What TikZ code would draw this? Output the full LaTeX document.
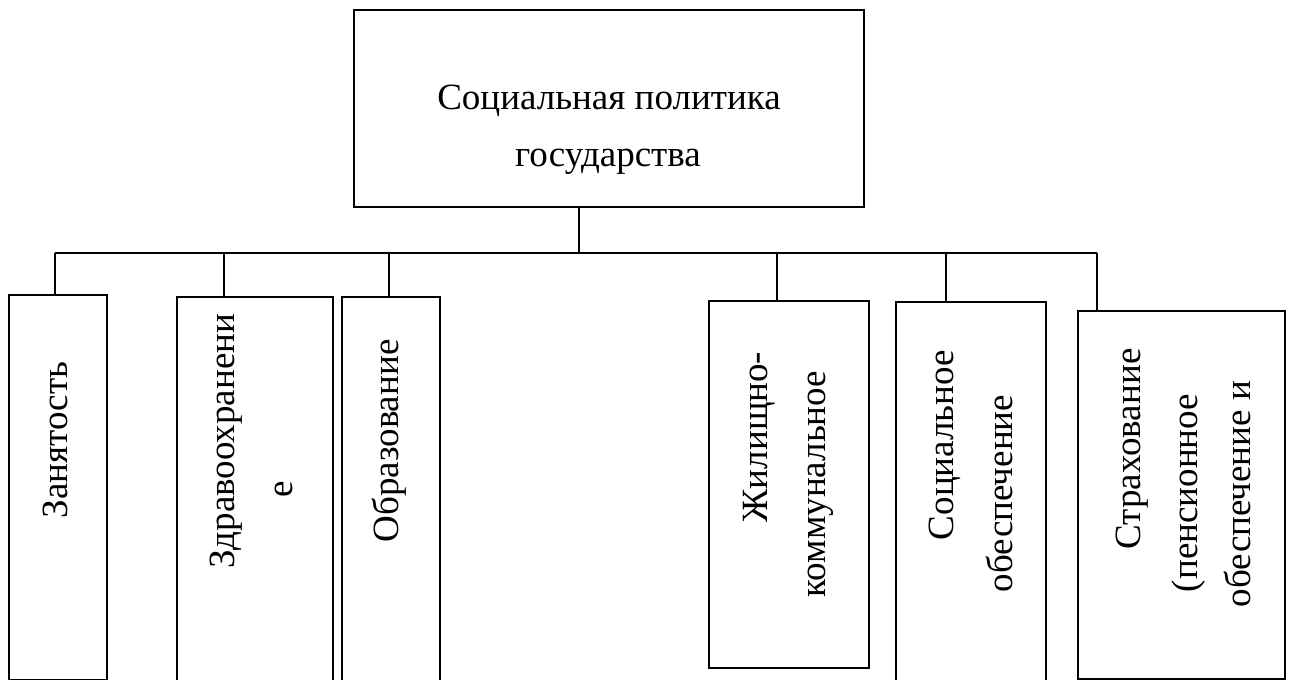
\documentclass[tikz,border=0pt]{standalone}
\usepackage{fontspec}
\setmainfont{Liberation Serif}
\tikzset{
  box/.style={draw, line width=0.8pt, inner sep=0pt, outer sep=0pt},
  hlabel/.style={anchor=base, inner sep=0pt, font=\fontsize{15.8}{19}\selectfont},
  vlabel/.style={hlabel, rotate=90},
  link/.style={line width=0.5pt}
}
\begin{document}
\begin{tikzpicture}
            \useasboundingbox (0,0) rectangle (19.395,10.2);
            \clip (0,0) rectangle (19.395,10.2);
            %Social policy
            \node [box, minimum width = 7.65cm, minimum height = 2.955cm]
            (pol)at(9.135,8.5725){};
            \node [hlabel] (pol1)at(9.135,8.55){Социальная политика};
            \node [hlabel] (pol2)at(9.12,7.695){государства};
            %Employment
            \node [box, minimum width = 1.47cm, minimum height = 5.7675cm]
            (zan)at(0.87,2.891){};
            \node [vlabel] (zan1)at(1.005,3.6){Занятость};
            %Health care
            \node [box, minimum width = 2.34cm, minimum height = 6.045cm]
            (zdr)at(3.825,2.7225){};
            \node [vlabel] (zdr1)at(3.51,3.585){Здравоохранени};
            \node [vlabel] (zdr2)at(4.38,2.865){е};
            %Education
            \node [box, minimum width = 1.47cm, minimum height = 6.045cm]
            (obr)at(5.865,2.7225){};
            \node [vlabel] (obr1)at(5.97,3.585){Образование};
            %Housing
            \node [box, minimum width = 2.4cm, minimum height = 5.505cm]
            (zhil)at(11.835,2.9325){};
            \node [vlabel] (zhil1)at(11.505,3.645){Жилищно-};
            \node [vlabel] (zhil2)at(12.375,2.94){коммунальное};
            %Social security
            \node [box, minimum width = 2.25cm, minimum height = 5.97cm]
            (soc)at(14.565,2.685){};
            \node [vlabel] (soc1)at(14.295,3.525){Социальное};
            \node [vlabel] (soc2)at(15.18,2.7975){обеспечение};
            %Insurance
            \node [box, minimum width = 3.105cm, minimum height = 5.52cm]
            (str)at(17.7225,2.775){};
            \node [vlabel] (str1)at(17.1,3.465){Страхование};
            \node [vlabel] (str2)at(17.955,2.805){(пенсионное};
            \node [vlabel] (str3)at(18.75,2.79){обеспечение и};
            %Bus
            \coordinate (hub) at (8.685,6.405);
            \coordinate (b1) at (0.825,6.405);
            \coordinate (b2) at (3.36,6.405);
            \coordinate (b3) at (5.835,6.405);
            \coordinate (b4) at (11.655,6.405);
            \coordinate (b5) at (14.19,6.405);
            \coordinate (b6) at (16.455,6.405);

            \draw [link](pol.south -| hub)--(hub);
            \draw [link](b1)--(b6);
            \draw [link](b1)--(b1 |- zan.north);
            \draw [link](b2)--(b2 |- zdr.north);
            \draw [link](b3)--(b3 |- obr.north);
            \draw [link](b4)--(b4 |- zhil.north);
            \draw [link](b5)--(b5 |- soc.north);
            \draw [link](b6)--(b6 |- str.north);

        \end{tikzpicture}
\end{document}
